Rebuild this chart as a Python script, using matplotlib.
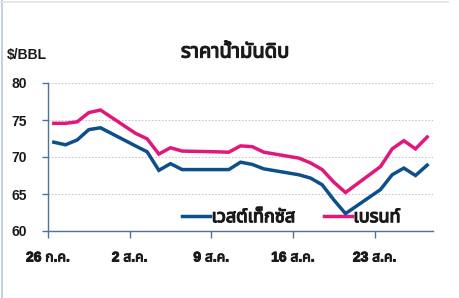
import matplotlib
matplotlib.use("Agg")
import matplotlib.pyplot as plt
from matplotlib import font_manager
from matplotlib.font_manager import FontProperties
from matplotlib.ft2font import FT2Font
from matplotlib.lines import Line2D
import matplotlib.patheffects as pe

# ---- data ----
dates = ["26 Jul", "27 Jul", "28 Jul", "29 Jul", "30 Jul",
         "2 Aug", "3 Aug", "4 Aug", "5 Aug", "6 Aug",
         "9 Aug", "10 Aug", "11 Aug", "12 Aug", "13 Aug",
         "16 Aug", "17 Aug", "18 Aug", "19 Aug", "20 Aug",
         "23 Aug", "24 Aug", "25 Aug", "26 Aug", "27 Aug"]
day_index = [0, 1, 2, 3, 4, 7, 8, 9, 10, 11, 14, 15, 16, 17, 18,
             21, 22, 23, 24, 25, 28, 29, 30, 31, 32]
wti = [72.0, 71.65, 72.3, 73.7, 73.95, 71.5, 70.7, 68.2, 69.1, 68.3,
       68.3, 68.3, 69.3, 69.0, 68.4, 67.6, 67.15, 66.25, 64.2, 62.35,
       65.6, 67.6, 68.5, 67.5, 68.9]
brent = [74.55, 74.55, 74.75, 76.0, 76.35, 73.2, 72.45, 70.4, 71.25, 70.8,
         70.7, 70.65, 71.5, 71.4, 70.65, 69.85, 69.2, 68.3, 66.6, 65.2,
         68.7, 71.1, 72.2, 71.1, 72.7]
tick_days = [0, 7, 14, 21, 28]
tick_labels = ["26 ก.ค.", "2 ส.ค.", "9 ส.ค.", "16 ส.ค.", "23 ส.ค."]
y_ticks = [60, 65, 70, 75, 80]
title = "ราคาน้ำมันดิบ"
unit_label = "$/BBL"
series_names = ["เวสต์เท็กซัส", "เบรนท์"]


# ---- pick a font that has Thai glyphs ----
def find_thai_font():
    needed = [ord(c) for c in "ราคาน้ำมันดิบเวสต์เท็กซัส"]
    preferred = ["Noto Sans Thai", "Noto Sans", "Tahoma", "Leelawadee"]
    candidates = []
    for f in font_manager.fontManager.ttflist:
        try:
            cmap = FT2Font(f.fname).get_charmap()
        except Exception:
            continue
        if all(c in cmap for c in needed):
            candidates.append(f.name)
    for p in preferred:
        if p in candidates:
            return p
    return candidates[0] if candidates else None


def find_upright_bold(names):
    for n in names:
        for f in font_manager.fontManager.ttflist:
            if f.name == n and f.style == "normal" and f.weight in (700, "bold") \
                    and "Italic" not in f.fname and "Narrow" not in f.fname:
                return FontProperties(fname=f.fname)
    return FontProperties(family="DejaVu Sans", weight="bold")


thai = find_thai_font()
families = ["Liberation Sans"] + ([thai] if thai else []) + ["DejaVu Sans"]
plt.rcParams["font.family"] = families
latin_bold = find_upright_bold(["Liberation Sans", "Roboto", "Noto Sans"])

dark = "#1a1a1a"
bold_fx = [pe.withStroke(linewidth=0.7, foreground=dark)]
bold_fx_big = [pe.withStroke(linewidth=0.9, foreground=dark)]

fig = plt.figure(figsize=(4.59, 2.98), dpi=100)
ax = fig.add_axes([48 / 459, 1 - 231 / 298, (433 - 48) / 459, (231 - 83) / 298])

x = [d + 0.5 for d in day_index]
wti_color = "#0d4f8b"
brent_color = "#e0187c"
ax.plot(x, wti, color=wti_color, lw=2.5, solid_joinstyle="miter", label=series_names[0])
ax.plot(x, brent, color=brent_color, lw=2.5, solid_joinstyle="miter", label=series_names[1])

ax.set_xlim(0, 33)
ax.set_ylim(60, 80)
ax.set_yticks(y_ticks)
ax.set_xticks(tick_days)
ax.set_xticklabels(tick_labels)
ax.yaxis.grid(True, linestyle=(0, (1.5, 1.5)), color="#c8c8c8", lw=0.8)
ax.set_axisbelow(True)

axis_color = "#4f7396"
for s in ["top", "right"]:
    ax.spines[s].set_visible(False)
for s in ["left", "bottom"]:
    ax.spines[s].set_color(axis_color)
    ax.spines[s].set_linewidth(1.0)
ax.tick_params(axis="x", direction="out", length=5, width=1, color=axis_color, pad=9,
               labelsize=10, labelcolor=dark)
ax.tick_params(axis="y", direction="out", length=4, width=1, color=axis_color, pad=11,
               labelsize=10, labelcolor=dark)
for lab in ax.get_yticklabels():
    lab.set_fontproperties(latin_bold)
    lab.set_fontsize(10)
for lab in ax.get_xticklabels():
    lab.set_fontweight("bold")
    lab.set_fontstyle("normal")
    lab.set_path_effects(bold_fx)

fig.text(235 / 459, 1 - 52 / 298, title, ha="center", va="center",
         fontsize=14.5, fontweight="bold", color=dark, path_effects=bold_fx_big)
fig.text(7 / 459, 1 - 55 / 298, unit_label, ha="left", va="center",
         fontproperties=latin_bold, fontsize=10, color=dark)

leg = ax.legend(ncol=2, loc="center", bbox_to_anchor=(0.632, 0.09), frameon=False,
                handlelength=1.55, handletextpad=0.1, columnspacing=1.55,
                prop={"size": 13, "weight": "bold"})
for t in leg.get_texts():
    t.set_color(dark)
    t.set_path_effects(bold_fx_big)

# faint outer frame lines like the reference
fig.add_artist(Line2D([1.5 / 459, 1.5 / 459], [0, 1], color="#b9c9dd", lw=1.2))
fig.add_artist(Line2D([0, 448 / 459], [1 - 1.5 / 298, 1 - 1.5 / 298], color="#e4e4e4", lw=1.2))

fig.savefig("out.png", dpi=100)
